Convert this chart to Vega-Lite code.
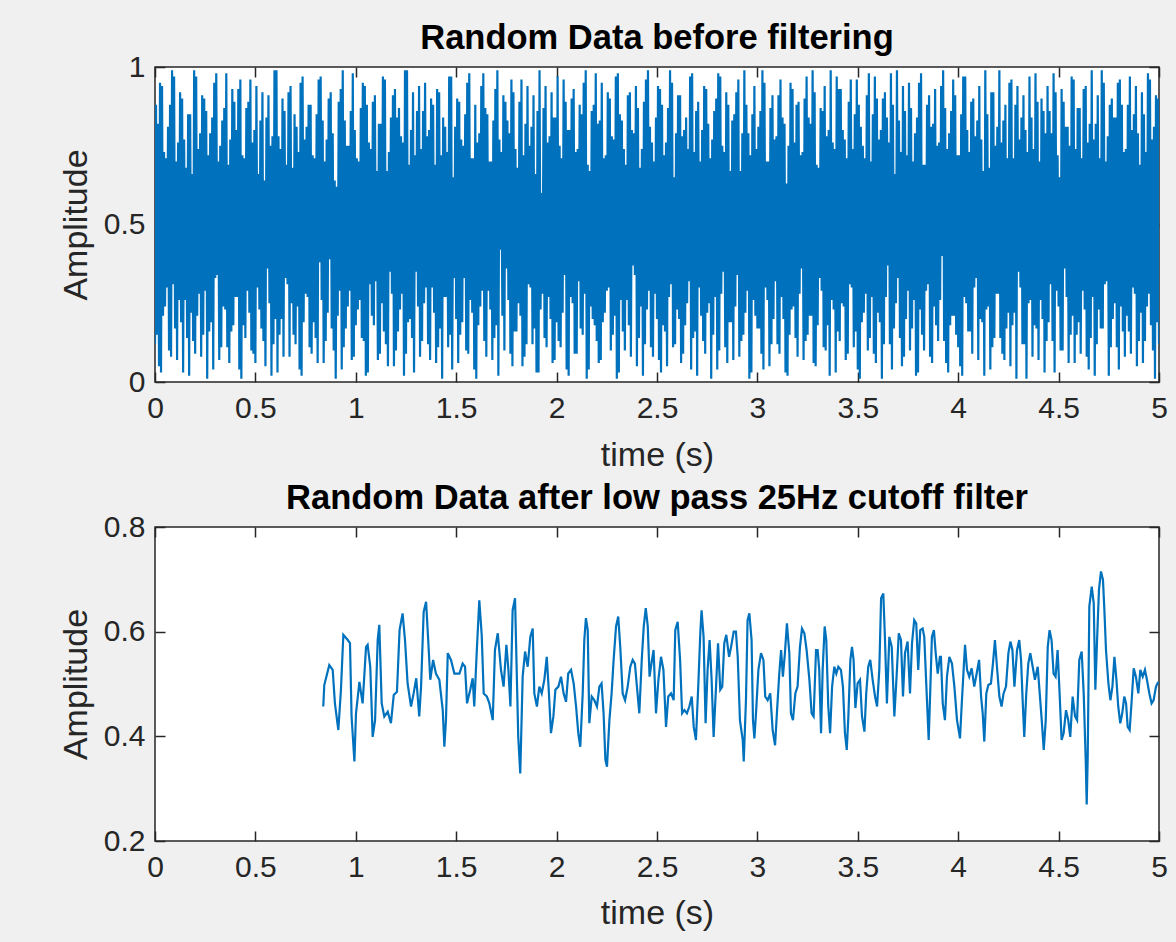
{
"$schema": "https://vega.github.io/schema/vega-lite/v6.json",
"background": "#f0f0f0",
"padding": {"left": 58, "top": 19, "right": 9, "bottom": 12},
"spacing": 6,
"config": {
 "view": {"fill": "white", "stroke": "#262626", "strokeWidth": 1.5},
 "font": "Liberation Sans",
 "axis": {"domain": false, "grid": false, "tickColor": "#262626", "tickWidth": 1.5, "tickSize": -10, "labelColor": "#262626", "labelFont": "Liberation Sans", "labelFontSize": 30, "titleFont": "Liberation Sans", "titleFontSize": 34, "titleColor": "#262626", "titleFontWeight": "normal", "labelFlush": false, "labelOverlap": false, "labelBound": false},
 "title": {"font": "Liberation Sans", "fontSize": 34.5, "fontWeight": "bold", "color": "#000000", "anchor": "middle", "baseline": "alphabetic", "offset": -4}
},
"datasets": {
"raw": [
{"t":0,"v":0.12},{"t":0.005,"v":0.88},{"t":0.01,"v":0.15},{"t":0.015,"v":0.82},{"t":0.02,"v":0.05},{"t":0.025,"v":0.95},{"t":0.03,"v":0.03},{"t":0.035,"v":0.94},{"t":0.04,"v":0.21},{"t":0.045,"v":0.73},{"t":0.05,"v":0.24},{"t":0.055,"v":0.71},{"t":0.06,"v":0.30},{"t":0.065,"v":0.81},{"t":0.07,"v":0.10},{"t":0.075,"v":0.88},{"t":0.08,"v":0.08},{"t":0.085,"v":0.99},{"t":0.09,"v":0.31},{"t":0.095,"v":0.97},{"t":0.1,"v":0.17},{"t":0.105,"v":0.70},{"t":0.11,"v":0.07},{"t":0.115,"v":0.76},{"t":0.12,"v":0.26},{"t":0.125,"v":0.92},{"t":0.13,"v":0.19},{"t":0.135,"v":0.90},{"t":0.14,"v":0.03},{"t":0.145,"v":0.77},{"t":0.15,"v":0.26},{"t":0.155,"v":0.68},{"t":0.16,"v":0.14},{"t":0.165,"v":0.85},{"t":0.17,"v":0.02},{"t":0.175,"v":0.85},{"t":0.18,"v":0.22},{"t":0.185,"v":0.66},{"t":0.19,"v":0.13},{"t":0.195,"v":0.99},
{"t":0.2,"v":0.09},{"t":0.205,"v":0.97},{"t":0.21,"v":0.21},{"t":0.215,"v":0.74},{"t":0.22,"v":0.28},{"t":0.225,"v":0.79},{"t":0.23,"v":0.08},{"t":0.235,"v":0.91},{"t":0.24,"v":0.15},{"t":0.245,"v":0.90},{"t":0.25,"v":0.29},{"t":0.255,"v":0.86},{"t":0.26,"v":0.01},{"t":0.265,"v":0.72},{"t":0.27,"v":0.16},{"t":0.275,"v":0.79},{"t":0.28,"v":0.19},{"t":0.285,"v":0.84},{"t":0.29,"v":0.04},{"t":0.295,"v":0.95},{"t":0.3,"v":0.33},{"t":0.305,"v":0.98},{"t":0.31,"v":0.34},{"t":0.315,"v":0.70},{"t":0.32,"v":0.07},{"t":0.325,"v":0.75},{"t":0.33,"v":0.11},{"t":0.335,"v":0.83},{"t":0.34,"v":0.24},{"t":0.345,"v":0.87},{"t":0.35,"v":0.23},{"t":0.355,"v":0.98},{"t":0.36,"v":0.11},{"t":0.365,"v":0.69},{"t":0.37,"v":0.06},{"t":0.375,"v":0.77},{"t":0.38,"v":0.16},{"t":0.385,"v":0.93},{"t":0.39,"v":0.18},{"t":0.395,"v":0.89},
{"t":0.4,"v":0.27},{"t":0.405,"v":0.80},{"t":0.41,"v":0.27},{"t":0.415,"v":0.93},{"t":0.42,"v":0.04},{"t":0.425,"v":0.96},{"t":0.43,"v":0.01},{"t":0.435,"v":0.72},{"t":0.44,"v":0.18},{"t":0.445,"v":0.71},{"t":0.45,"v":0.14},{"t":0.455,"v":0.87},{"t":0.46,"v":0.29},{"t":0.465,"v":0.89},{"t":0.47,"v":0.22},{"t":0.475,"v":0.96},{"t":0.48,"v":0.10},{"t":0.485,"v":0.76},{"t":0.49,"v":0.09},{"t":0.495,"v":0.80},{"t":0.5,"v":0.06},{"t":0.505,"v":0.94},{"t":0.51,"v":0.30},{"t":0.515,"v":0.66},{"t":0.52,"v":0.23},{"t":0.525,"v":0.83},{"t":0.53,"v":0.17},{"t":0.535,"v":0.92},{"t":0.54,"v":0.13},{"t":0.545,"v":0.64},{"t":0.55,"v":0.05},{"t":0.555,"v":0.84},{"t":0.56,"v":0.36},{"t":0.565,"v":0.91},{"t":0.57,"v":0.25},{"t":0.575,"v":0.75},{"t":0.58,"v":0.02},{"t":0.585,"v":0.78},{"t":0.59,"v":0.12},{"t":0.595,"v":0.99},
{"t":0.6,"v":0.20},{"t":0.605,"v":0.99},{"t":0.61,"v":0.03},{"t":0.615,"v":0.78},{"t":0.62,"v":0.15},{"t":0.625,"v":0.74},{"t":0.63,"v":0.20},{"t":0.635,"v":0.90},{"t":0.64,"v":0.08},{"t":0.645,"v":0.86},{"t":0.65,"v":0.33},{"t":0.655,"v":0.69},{"t":0.66,"v":0.31},{"t":0.665,"v":0.92},{"t":0.67,"v":0.08},{"t":0.675,"v":0.94},{"t":0.68,"v":0.25},{"t":0.685,"v":0.68},{"t":0.69,"v":0.15},{"t":0.695,"v":0.85},{"t":0.7,"v":0.12},{"t":0.705,"v":0.81},{"t":0.71,"v":0.24},{"t":0.715,"v":0.73},{"t":0.72,"v":0.04},{"t":0.725,"v":0.95},{"t":0.73,"v":0.02},{"t":0.735,"v":0.97},{"t":0.74,"v":0.19},{"t":0.745,"v":0.77},{"t":0.75,"v":0.28},{"t":0.755,"v":0.81},{"t":0.76,"v":0.27},{"t":0.765,"v":0.88},{"t":0.77,"v":0.11},{"t":0.775,"v":0.88},{"t":0.78,"v":0.09},{"t":0.785,"v":0.72},{"t":0.79,"v":0.19},{"t":0.795,"v":0.71},
{"t":0.8,"v":0.14},{"t":0.805,"v":0.85},{"t":0.81,"v":0.06},{"t":0.815,"v":0.96},{"t":0.82,"v":0.38},{"t":0.825,"v":0.97},{"t":0.83,"v":0.26},{"t":0.835,"v":0.83},{"t":0.84,"v":0.06},{"t":0.845,"v":0.70},{"t":0.85,"v":0.13},{"t":0.855,"v":0.77},{"t":0.86,"v":0.22},{"t":0.865,"v":0.90},{"t":0.87,"v":0.39},{"t":0.875,"v":0.92},{"t":0.88,"v":0.17},{"t":0.885,"v":0.79},{"t":0.89,"v":0.10},{"t":0.895,"v":0.64},{"t":0.9,"v":0.01},{"t":0.905,"v":0.62},{"t":0.91,"v":0.21},{"t":0.915,"v":0.89},{"t":0.92,"v":0.29},{"t":0.925,"v":0.93},{"t":0.93,"v":0.04},{"t":0.935,"v":0.99},{"t":0.94,"v":0.11},{"t":0.945,"v":0.83},{"t":0.95,"v":0.17},{"t":0.955,"v":0.75},{"t":0.96,"v":0.24},{"t":0.965,"v":0.75},{"t":0.97,"v":0.29},{"t":0.975,"v":0.86},{"t":0.98,"v":0.07},{"t":0.985,"v":0.98},{"t":0.99,"v":0.08},{"t":0.995,"v":0.80},
{"t":1,"v":0.18},{"t":1.005,"v":0.71},{"t":1.01,"v":0.23},{"t":1.015,"v":0.70},{"t":1.02,"v":0.26},{"t":1.025,"v":0.87},{"t":1.03,"v":0.14},{"t":1.035,"v":0.95},{"t":1.04,"v":0.13},{"t":1.045,"v":0.94},{"t":1.05,"v":0.02},{"t":1.055,"v":0.88},{"t":1.06,"v":0.03},{"t":1.065,"v":0.76},{"t":1.07,"v":0.31},{"t":1.075,"v":0.74},{"t":1.08,"v":0.21},{"t":1.085,"v":0.89},{"t":1.09,"v":0.18},{"t":1.095,"v":0.91},{"t":1.1,"v":0.32},{"t":1.105,"v":0.67},{"t":1.11,"v":0.07},{"t":1.115,"v":0.82},{"t":1.12,"v":0.09},{"t":1.125,"v":0.82},{"t":1.13,"v":0.25},{"t":1.135,"v":0.97},{"t":1.14,"v":0.16},{"t":1.145,"v":0.96},{"t":1.15,"v":0.12},{"t":1.155,"v":0.67},{"t":1.16,"v":0.05},{"t":1.165,"v":0.73},{"t":1.17,"v":0.35},{"t":1.175,"v":0.84},{"t":1.18,"v":0.28},{"t":1.185,"v":0.91},{"t":1.19,"v":0.05},{"t":1.195,"v":0.93},
{"t":1.2,"v":0.10},{"t":1.205,"v":0.84},{"t":1.21,"v":0.16},{"t":1.215,"v":0.87},{"t":1.22,"v":0.23},{"t":1.225,"v":0.78},{"t":1.23,"v":0.28},{"t":1.235,"v":0.76},{"t":1.24,"v":0.02},{"t":1.245,"v":0.99},{"t":1.25,"v":0.09},{"t":1.255,"v":0.99},{"t":1.26,"v":0.19},{"t":1.265,"v":0.69},{"t":1.27,"v":0.20},{"t":1.275,"v":0.80},{"t":1.28,"v":0.14},{"t":1.285,"v":0.92},{"t":1.29,"v":0.03},{"t":1.295,"v":0.72},{"t":1.3,"v":0.35},{"t":1.305,"v":0.86},{"t":1.31,"v":0.24},{"t":1.315,"v":0.94},{"t":1.32,"v":0.08},{"t":1.325,"v":0.74},{"t":1.33,"v":0.13},{"t":1.335,"v":0.86},{"t":1.34,"v":0.25},{"t":1.345,"v":0.95},{"t":1.35,"v":0.30},{"t":1.355,"v":0.78},{"t":1.36,"v":0.12},{"t":1.365,"v":0.80},{"t":1.37,"v":0.07},{"t":1.375,"v":0.90},{"t":1.38,"v":0.30},{"t":1.385,"v":0.88},{"t":1.39,"v":0.22},{"t":1.395,"v":0.69},
{"t":1.4,"v":0.06},{"t":1.405,"v":0.93},{"t":1.41,"v":0.11},{"t":1.415,"v":0.92},{"t":1.42,"v":0.17},{"t":1.425,"v":0.72},{"t":1.43,"v":0.01},{"t":1.435,"v":0.84},{"t":1.44,"v":0.27},{"t":1.445,"v":0.81},{"t":1.45,"v":0.27},{"t":1.455,"v":0.73},{"t":1.46,"v":0.11},{"t":1.465,"v":0.97},{"t":1.47,"v":0.15},{"t":1.475,"v":0.97},{"t":1.48,"v":0.04},{"t":1.485,"v":0.65},{"t":1.49,"v":0.33},{"t":1.495,"v":0.81},{"t":1.5,"v":0.20},{"t":1.505,"v":0.90},{"t":1.51,"v":0.06},{"t":1.515,"v":0.89},{"t":1.52,"v":0.15},{"t":1.525,"v":0.77},{"t":1.53,"v":0.19},{"t":1.535,"v":0.75},{"t":1.54,"v":0.33},{"t":1.545,"v":0.85},{"t":1.55,"v":0.10},{"t":1.555,"v":0.95},{"t":1.56,"v":0.09},{"t":1.565,"v":0.98},{"t":1.57,"v":0.26},{"t":1.575,"v":0.71},{"t":1.58,"v":0.22},{"t":1.585,"v":0.71},{"t":1.59,"v":0.04},{"t":1.595,"v":0.88},
{"t":1.6,"v":0.01},{"t":1.605,"v":0.76},{"t":1.61,"v":0.18},{"t":1.615,"v":0.79},{"t":1.62,"v":0.24},{"t":1.625,"v":0.94},{"t":1.63,"v":0.29},{"t":1.635,"v":0.98},{"t":1.64,"v":0.13},{"t":1.645,"v":0.87},{"t":1.65,"v":0.08},{"t":1.655,"v":0.85},{"t":1.66,"v":0.29},{"t":1.665,"v":0.70},{"t":1.67,"v":0.23},{"t":1.675,"v":0.70},{"t":1.68,"v":0.07},{"t":1.685,"v":0.83},{"t":1.69,"v":0.14},{"t":1.695,"v":0.93},{"t":1.7,"v":0.18},{"t":1.705,"v":0.99},{"t":1.71,"v":0.02},{"t":1.715,"v":0.77},{"t":1.72,"v":0.42},{"t":1.725,"v":0.73},{"t":1.73,"v":0.21},{"t":1.735,"v":0.91},{"t":1.74,"v":0.10},{"t":1.745,"v":0.89},{"t":1.75,"v":0.36},{"t":1.755,"v":0.83},{"t":1.76,"v":0.26},{"t":1.765,"v":0.79},{"t":1.77,"v":0.09},{"t":1.775,"v":0.96},{"t":1.78,"v":0.05},{"t":1.785,"v":0.92},{"t":1.79,"v":0.16},{"t":1.795,"v":0.74},
{"t":1.8,"v":0.16},{"t":1.805,"v":0.68},{"t":1.81,"v":0.25},{"t":1.815,"v":0.89},{"t":1.82,"v":0.21},{"t":1.825,"v":0.96},{"t":1.83,"v":0.05},{"t":1.835,"v":0.72},{"t":1.84,"v":0.08},{"t":1.845,"v":0.82},{"t":1.85,"v":0.12},{"t":1.855,"v":0.94},{"t":1.86,"v":0.31},{"t":1.865,"v":0.75},{"t":1.87,"v":0.30},{"t":1.875,"v":0.81},{"t":1.88,"v":0.12},{"t":1.885,"v":0.91},{"t":1.89,"v":0.17},{"t":1.895,"v":0.66},{"t":1.9,"v":0.03},{"t":1.905,"v":0.86},{"t":1.91,"v":0.03},{"t":1.915,"v":0.99},{"t":1.92,"v":0.23},{"t":1.925,"v":0.60},{"t":1.93,"v":0.28},{"t":1.935,"v":0.87},{"t":1.94,"v":0.14},{"t":1.945,"v":0.94},{"t":1.95,"v":0.11},{"t":1.955,"v":0.76},{"t":1.96,"v":0.27},{"t":1.965,"v":0.78},{"t":1.97,"v":0.20},{"t":1.975,"v":0.92},{"t":1.98,"v":0.06},{"t":1.985,"v":0.84},{"t":1.99,"v":0.07},{"t":1.995,"v":0.84},
{"t":2,"v":0.19},{"t":2.005,"v":0.97},{"t":2.01,"v":0.13},{"t":2.015,"v":0.75},{"t":2.02,"v":0.11},{"t":2.025,"v":0.71},{"t":2.03,"v":0.22},{"t":2.035,"v":0.96},{"t":2.04,"v":0.34},{"t":2.045,"v":0.89},{"t":2.05,"v":0.04},{"t":2.055,"v":0.80},{"t":2.06,"v":0.02},{"t":2.065,"v":0.80},{"t":2.07,"v":0.27},{"t":2.075,"v":0.90},{"t":2.08,"v":0.25},{"t":2.085,"v":0.93},{"t":2.09,"v":0.09},{"t":2.095,"v":0.73},{"t":2.1,"v":0.09},{"t":2.105,"v":0.74},{"t":2.11,"v":0.32},{"t":2.115,"v":0.88},{"t":2.12,"v":0.17},{"t":2.125,"v":0.85},{"t":2.13,"v":0.15},{"t":2.135,"v":0.95},{"t":2.14,"v":0.28},{"t":2.145,"v":0.99},{"t":2.15,"v":0.01},{"t":2.155,"v":0.69},{"t":2.16,"v":0.04},{"t":2.165,"v":0.67},{"t":2.17,"v":0.24},{"t":2.175,"v":0.86},{"t":2.18,"v":0.20},{"t":2.185,"v":0.88},{"t":2.19,"v":0.18},{"t":2.195,"v":0.98},
{"t":2.2,"v":0.13},{"t":2.205,"v":0.82},{"t":2.21,"v":0.06},{"t":2.215,"v":0.83},{"t":2.22,"v":0.07},{"t":2.225,"v":0.95},{"t":2.23,"v":0.19},{"t":2.235,"v":0.71},{"t":2.24,"v":0.22},{"t":2.245,"v":0.72},{"t":2.25,"v":0.29},{"t":2.255,"v":0.92},{"t":2.26,"v":0.30},{"t":2.265,"v":0.90},{"t":2.27,"v":0.10},{"t":2.275,"v":0.78},{"t":2.28,"v":0.15},{"t":2.285,"v":0.77},{"t":2.29,"v":0.21},{"t":2.295,"v":0.97},{"t":2.3,"v":0.01},{"t":2.305,"v":0.98},{"t":2.31,"v":0.03},{"t":2.315,"v":0.85},{"t":2.32,"v":0.26},{"t":2.325,"v":0.83},{"t":2.33,"v":0.16},{"t":2.335,"v":0.74},{"t":2.34,"v":0.10},{"t":2.345,"v":0.69},{"t":2.35,"v":0.26},{"t":2.355,"v":0.91},{"t":2.36,"v":0.18},{"t":2.365,"v":0.92},{"t":2.37,"v":0.08},{"t":2.375,"v":0.80},{"t":2.38,"v":0.37},{"t":2.385,"v":0.79},{"t":2.39,"v":0.34},{"t":2.395,"v":0.94},
{"t":2.4,"v":0.05},{"t":2.405,"v":0.87},{"t":2.41,"v":0.14},{"t":2.415,"v":0.68},{"t":2.42,"v":0.24},{"t":2.425,"v":0.74},{"t":2.43,"v":0.02},{"t":2.435,"v":0.89},{"t":2.44,"v":0.12},{"t":2.445,"v":0.96},{"t":2.45,"v":0.23},{"t":2.455,"v":0.99},{"t":2.46,"v":0.29},{"t":2.465,"v":0.81},{"t":2.47,"v":0.11},{"t":2.475,"v":0.76},{"t":2.48,"v":0.08},{"t":2.485,"v":0.70},{"t":2.49,"v":0.28},{"t":2.495,"v":0.84},{"t":2.5,"v":0.20},{"t":2.505,"v":0.94},{"t":2.51,"v":0.07},{"t":2.515,"v":0.93},{"t":2.52,"v":0.03},{"t":2.525,"v":0.88},{"t":2.53,"v":0.18},{"t":2.535,"v":0.72},{"t":2.54,"v":0.16},{"t":2.545,"v":0.76},{"t":2.55,"v":0.05},{"t":2.555,"v":0.87},{"t":2.56,"v":0.27},{"t":2.565,"v":0.99},{"t":2.57,"v":0.31},{"t":2.575,"v":0.95},{"t":2.58,"v":0.11},{"t":2.585,"v":0.65},{"t":2.59,"v":0.12},{"t":2.595,"v":0.79},
{"t":2.6,"v":0.23},{"t":2.605,"v":0.91},{"t":2.61,"v":0.20},{"t":2.615,"v":0.91},{"t":2.62,"v":0.06},{"t":2.625,"v":0.78},{"t":2.63,"v":0.09},{"t":2.635,"v":0.80},{"t":2.64,"v":0.18},{"t":2.645,"v":0.84},{"t":2.65,"v":0.25},{"t":2.655,"v":0.74},{"t":2.66,"v":0.32},{"t":2.665,"v":0.97},{"t":2.67,"v":0.04},{"t":2.675,"v":0.98},{"t":2.68,"v":0.14},{"t":2.685,"v":0.73},{"t":2.69,"v":0.16},{"t":2.695,"v":0.86},{"t":2.7,"v":0.02},{"t":2.705,"v":0.89},{"t":2.71,"v":0.30},{"t":2.715,"v":0.70},{"t":2.72,"v":0.21},{"t":2.725,"v":0.80},{"t":2.73,"v":0.13},{"t":2.735,"v":0.94},{"t":2.74,"v":0.09},{"t":2.745,"v":0.93},{"t":2.75,"v":0.22},{"t":2.755,"v":0.82},{"t":2.76,"v":0.25},{"t":2.765,"v":0.71},{"t":2.77,"v":0.01},{"t":2.775,"v":0.77},{"t":2.78,"v":0.15},{"t":2.785,"v":0.86},{"t":2.79,"v":0.27},{"t":2.795,"v":0.90},
{"t":2.8,"v":0.04},{"t":2.805,"v":0.98},{"t":2.81,"v":0.10},{"t":2.815,"v":0.97},{"t":2.82,"v":0.28},{"t":2.825,"v":0.75},{"t":2.83,"v":0.35},{"t":2.835,"v":0.73},{"t":2.84,"v":0.11},{"t":2.845,"v":0.92},{"t":2.85,"v":0.06},{"t":2.855,"v":0.88},{"t":2.86,"v":0.19},{"t":2.865,"v":0.67},{"t":2.87,"v":0.19},{"t":2.875,"v":0.83},{"t":2.88,"v":0.07},{"t":2.885,"v":0.85},{"t":2.89,"v":0.24},{"t":2.895,"v":0.92},{"t":2.9,"v":0.34},{"t":2.905,"v":0.96},{"t":2.91,"v":0.08},{"t":2.915,"v":0.67},{"t":2.92,"v":0.13},{"t":2.925,"v":0.79},{"t":2.93,"v":0.15},{"t":2.935,"v":0.99},{"t":2.94,"v":0.22},{"t":2.945,"v":0.88},{"t":2.95,"v":0.29},{"t":2.955,"v":0.79},{"t":2.96,"v":0.01},{"t":2.965,"v":0.72},{"t":2.97,"v":0.03},{"t":2.975,"v":0.85},{"t":2.98,"v":0.26},{"t":2.985,"v":0.94},{"t":2.99,"v":0.21},{"t":2.995,"v":0.74},
{"t":3,"v":0.17},{"t":3.005,"v":0.81},{"t":3.01,"v":0.17},{"t":3.015,"v":0.86},{"t":3.02,"v":0.09},{"t":3.025,"v":0.99},{"t":3.03,"v":0.04},{"t":3.035,"v":0.95},{"t":3.04,"v":0.30},{"t":3.045,"v":0.70},{"t":3.05,"v":0.26},{"t":3.055,"v":0.70},{"t":3.06,"v":0.05},{"t":3.065,"v":0.87},{"t":3.07,"v":0.12},{"t":3.075,"v":0.91},{"t":3.08,"v":0.20},{"t":3.085,"v":0.77},{"t":3.09,"v":0.32},{"t":3.095,"v":0.78},{"t":3.1,"v":0.12},{"t":3.105,"v":0.91},{"t":3.11,"v":0.09},{"t":3.115,"v":0.96},{"t":3.12,"v":0.27},{"t":3.125,"v":0.84},{"t":3.13,"v":0.20},{"t":3.135,"v":0.82},{"t":3.14,"v":0.03},{"t":3.145,"v":0.63},{"t":3.15,"v":0.02},{"t":3.155,"v":0.75},{"t":3.16,"v":0.15},{"t":3.165,"v":0.95},{"t":3.17,"v":0.23},{"t":3.175,"v":0.93},{"t":3.18,"v":0.24},{"t":3.185,"v":0.76},{"t":3.19,"v":0.14},{"t":3.195,"v":0.88},
{"t":3.2,"v":0.08},{"t":3.205,"v":0.89},{"t":3.21,"v":0.28},{"t":3.215,"v":0.72},{"t":3.22,"v":0.36},{"t":3.225,"v":0.73},{"t":3.23,"v":0.07},{"t":3.235,"v":0.90},{"t":3.24,"v":0.13},{"t":3.245,"v":0.97},{"t":3.25,"v":0.15},{"t":3.255,"v":0.84},{"t":3.26,"v":0.21},{"t":3.265,"v":0.82},{"t":3.27,"v":0.21},{"t":3.275,"v":0.99},{"t":3.28,"v":0.06},{"t":3.285,"v":0.92},{"t":3.29,"v":0.05},{"t":3.295,"v":0.69},{"t":3.3,"v":0.18},{"t":3.305,"v":0.68},{"t":3.31,"v":0.33},{"t":3.315,"v":0.87},{"t":3.32,"v":0.29},{"t":3.325,"v":0.86},{"t":3.33,"v":0.11},{"t":3.335,"v":0.94},{"t":3.34,"v":0.10},{"t":3.345,"v":0.78},{"t":3.35,"v":0.18},{"t":3.355,"v":0.80},{"t":3.36,"v":0.02},{"t":3.365,"v":0.99},{"t":3.37,"v":0.26},{"t":3.375,"v":0.76},{"t":3.38,"v":0.23},{"t":3.385,"v":0.74},{"t":3.39,"v":0.03},{"t":3.395,"v":0.97},
{"t":3.4,"v":0.16},{"t":3.405,"v":0.93},{"t":3.41,"v":0.13},{"t":3.415,"v":0.93},{"t":3.42,"v":0.25},{"t":3.425,"v":0.80},{"t":3.43,"v":0.24},{"t":3.435,"v":0.77},{"t":3.44,"v":0.07},{"t":3.445,"v":0.71},{"t":3.45,"v":0.09},{"t":3.455,"v":0.89},{"t":3.46,"v":0.31},{"t":3.465,"v":0.96},{"t":3.47,"v":0.30},{"t":3.475,"v":0.74},{"t":3.48,"v":0.11},{"t":3.485,"v":0.85},{"t":3.49,"v":0.16},{"t":3.495,"v":0.96},{"t":3.5,"v":0.04},{"t":3.505,"v":0.88},{"t":3.51,"v":0.01},{"t":3.515,"v":0.81},{"t":3.52,"v":0.19},{"t":3.525,"v":0.75},{"t":3.53,"v":0.22},{"t":3.535,"v":0.71},{"t":3.54,"v":0.28},{"t":3.545,"v":0.91},{"t":3.55,"v":0.10},{"t":3.555,"v":0.98},{"t":3.56,"v":0.14},{"t":3.565,"v":0.70},{"t":3.57,"v":0.27},{"t":3.575,"v":0.85},{"t":3.58,"v":0.09},{"t":3.585,"v":0.97},{"t":3.59,"v":0.06},{"t":3.595,"v":0.90},
{"t":3.6,"v":0.22},{"t":3.605,"v":0.77},{"t":3.61,"v":0.19},{"t":3.615,"v":0.80},{"t":3.62,"v":0.01},{"t":3.625,"v":0.90},{"t":3.63,"v":0.12},{"t":3.635,"v":0.92},{"t":3.64,"v":0.27},{"t":3.645,"v":0.84},{"t":3.65,"v":0.37},{"t":3.655,"v":0.76},{"t":3.66,"v":0.12},{"t":3.665,"v":0.98},{"t":3.67,"v":0.04},{"t":3.675,"v":0.88},{"t":3.68,"v":0.17},{"t":3.685,"v":0.66},{"t":3.69,"v":0.25},{"t":3.695,"v":0.99},{"t":3.7,"v":0.33},{"t":3.705,"v":0.83},{"t":3.71,"v":0.14},{"t":3.715,"v":0.73},{"t":3.72,"v":0.05},{"t":3.725,"v":0.94},{"t":3.73,"v":0.08},{"t":3.735,"v":0.86},{"t":3.74,"v":0.20},{"t":3.745,"v":0.72},{"t":3.75,"v":0.29},{"t":3.755,"v":0.95},{"t":3.76,"v":0.10},{"t":3.765,"v":0.87},{"t":3.77,"v":0.17},{"t":3.775,"v":0.70},{"t":3.78,"v":0.26},{"t":3.785,"v":0.79},{"t":3.79,"v":0.02},{"t":3.795,"v":0.84},
{"t":3.8,"v":0.03},{"t":3.805,"v":0.95},{"t":3.81,"v":0.23},{"t":3.815,"v":0.98},{"t":3.82,"v":0.15},{"t":3.825,"v":0.69},{"t":3.83,"v":0.10},{"t":3.835,"v":0.69},{"t":3.84,"v":0.29},{"t":3.845,"v":0.88},{"t":3.85,"v":0.31},{"t":3.855,"v":0.91},{"t":3.86,"v":0.08},{"t":3.865,"v":0.81},{"t":3.87,"v":0.06},{"t":3.875,"v":0.82},{"t":3.88,"v":0.24},{"t":3.885,"v":0.93},{"t":3.89,"v":0.18},{"t":3.895,"v":0.75},{"t":3.9,"v":0.13},{"t":3.905,"v":0.76},{"t":3.91,"v":0.26},{"t":3.915,"v":0.94},{"t":3.92,"v":0.40},{"t":3.925,"v":0.99},{"t":3.93,"v":0.13},{"t":3.935,"v":0.87},{"t":3.94,"v":0.06},{"t":3.945,"v":0.74},{"t":3.95,"v":0.03},{"t":3.955,"v":0.79},{"t":3.96,"v":0.18},{"t":3.965,"v":0.86},{"t":3.97,"v":0.21},{"t":3.975,"v":0.96},{"t":3.98,"v":0.21},{"t":3.985,"v":0.91},{"t":3.99,"v":0.15},{"t":3.995,"v":0.72},
{"t":4,"v":0.11},{"t":4.005,"v":0.72},{"t":4.01,"v":0.05},{"t":4.015,"v":0.85},{"t":4.02,"v":0.02},{"t":4.025,"v":0.97},{"t":4.03,"v":0.27},{"t":4.035,"v":0.97},{"t":4.04,"v":0.25},{"t":4.045,"v":0.80},{"t":4.05,"v":0.16},{"t":4.055,"v":0.73},{"t":4.06,"v":0.16},{"t":4.065,"v":0.89},{"t":4.07,"v":0.09},{"t":4.075,"v":0.90},{"t":4.08,"v":0.30},{"t":4.085,"v":0.78},{"t":4.09,"v":0.33},{"t":4.095,"v":0.83},{"t":4.1,"v":0.07},{"t":4.105,"v":0.94},{"t":4.11,"v":0.20},{"t":4.115,"v":0.77},{"t":4.12,"v":0.19},{"t":4.125,"v":0.67},{"t":4.13,"v":0.02},{"t":4.135,"v":0.99},{"t":4.14,"v":0.23},{"t":4.145,"v":0.85},{"t":4.15,"v":0.24},{"t":4.155,"v":0.68},{"t":4.16,"v":0.04},{"t":4.165,"v":0.92},{"t":4.17,"v":0.11},{"t":4.175,"v":0.92},{"t":4.18,"v":0.14},{"t":4.185,"v":0.75},{"t":4.19,"v":0.28},{"t":4.195,"v":0.81},
{"t":4.2,"v":0.28},{"t":4.205,"v":0.99},{"t":4.21,"v":0.14},{"t":4.215,"v":0.76},{"t":4.22,"v":0.09},{"t":4.225,"v":0.83},{"t":4.23,"v":0.07},{"t":4.235,"v":0.88},{"t":4.24,"v":0.17},{"t":4.245,"v":0.71},{"t":4.25,"v":0.22},{"t":4.255,"v":0.95},{"t":4.26,"v":0.05},{"t":4.265,"v":0.96},{"t":4.27,"v":0.18},{"t":4.275,"v":0.71},{"t":4.28,"v":0.22},{"t":4.285,"v":0.88},{"t":4.29,"v":0.01},{"t":4.295,"v":0.94},{"t":4.3,"v":0.35},{"t":4.305,"v":0.77},{"t":4.31,"v":0.30},{"t":4.315,"v":0.84},{"t":4.32,"v":0.12},{"t":4.325,"v":0.91},{"t":4.33,"v":0.12},{"t":4.335,"v":0.80},{"t":4.34,"v":0.01},{"t":4.345,"v":0.73},{"t":4.35,"v":0.25},{"t":4.355,"v":0.97},{"t":4.36,"v":0.26},{"t":4.365,"v":0.84},{"t":4.37,"v":0.08},{"t":4.375,"v":0.74},{"t":4.38,"v":0.18},{"t":4.385,"v":0.98},{"t":4.39,"v":0.17},{"t":4.395,"v":0.89},
{"t":4.4,"v":0.07},{"t":4.405,"v":0.70},{"t":4.41,"v":0.26},{"t":4.415,"v":0.90},{"t":4.42,"v":0.20},{"t":4.425,"v":0.86},{"t":4.43,"v":0.03},{"t":4.435,"v":0.79},{"t":4.44,"v":0.13},{"t":4.445,"v":0.94},{"t":4.45,"v":0.19},{"t":4.455,"v":0.86},{"t":4.46,"v":0.31},{"t":4.465,"v":0.79},{"t":4.47,"v":0.13},{"t":4.475,"v":0.98},{"t":4.48,"v":0.03},{"t":4.485,"v":0.92},{"t":4.49,"v":0.29},{"t":4.495,"v":0.72},{"t":4.5,"v":0.24},{"t":4.505,"v":0.65},{"t":4.51,"v":0.10},{"t":4.515,"v":0.93},{"t":4.52,"v":0.10},{"t":4.525,"v":0.89},{"t":4.53,"v":0.36},{"t":4.535,"v":0.81},{"t":4.54,"v":0.27},{"t":4.545,"v":0.81},{"t":4.55,"v":0.06},{"t":4.555,"v":0.75},{"t":4.56,"v":0.15},{"t":4.565,"v":0.97},{"t":4.57,"v":0.21},{"t":4.575,"v":0.96},{"t":4.58,"v":0.06},{"t":4.585,"v":0.74},{"t":4.59,"v":0.15},{"t":4.595,"v":0.87},
{"t":4.6,"v":0.19},{"t":4.605,"v":0.87},{"t":4.61,"v":0.09},{"t":4.615,"v":0.71},{"t":4.62,"v":0.29},{"t":4.625,"v":0.93},{"t":4.63,"v":0.23},{"t":4.635,"v":0.94},{"t":4.64,"v":0.08},{"t":4.645,"v":0.76},{"t":4.65,"v":0.04},{"t":4.655,"v":0.82},{"t":4.66,"v":0.14},{"t":4.665,"v":0.99},{"t":4.67,"v":0.27},{"t":4.675,"v":0.77},{"t":4.68,"v":0.02},{"t":4.685,"v":0.82},{"t":4.69,"v":0.12},{"t":4.695,"v":0.91},{"t":4.7,"v":0.23},{"t":4.705,"v":0.71},{"t":4.71,"v":0.17},{"t":4.715,"v":0.99},{"t":4.72,"v":0.17},{"t":4.725,"v":0.95},{"t":4.73,"v":0.31},{"t":4.735,"v":0.70},{"t":4.74,"v":0.32},{"t":4.745,"v":0.78},{"t":4.75,"v":0.02},{"t":4.755,"v":0.88},{"t":4.76,"v":0.11},{"t":4.765,"v":0.90},{"t":4.77,"v":0.20},{"t":4.775,"v":0.84},{"t":4.78,"v":0.25},{"t":4.785,"v":0.84},{"t":4.79,"v":0.11},{"t":4.795,"v":0.95},
{"t":4.8,"v":0.04},{"t":4.805,"v":0.96},{"t":4.81,"v":0.24},{"t":4.815,"v":0.88},{"t":4.82,"v":0.16},{"t":4.825,"v":0.73},{"t":4.83,"v":0.08},{"t":4.835,"v":0.74},{"t":4.84,"v":0.21},{"t":4.845,"v":0.88},{"t":4.85,"v":0.16},{"t":4.855,"v":0.97},{"t":4.86,"v":0.09},{"t":4.865,"v":0.80},{"t":4.87,"v":0.30},{"t":4.875,"v":0.85},{"t":4.88,"v":0.28},{"t":4.885,"v":0.94},{"t":4.89,"v":0.05},{"t":4.895,"v":0.79},{"t":4.9,"v":0.13},{"t":4.905,"v":0.69},{"t":4.91,"v":0.22},{"t":4.915,"v":0.92},{"t":4.92,"v":0.06},{"t":4.925,"v":0.85},{"t":4.93,"v":0.13},{"t":4.935,"v":0.73},{"t":4.94,"v":0.24},{"t":4.945,"v":0.98},{"t":4.95,"v":0.28},{"t":4.955,"v":0.96},{"t":4.96,"v":0.18},{"t":4.965,"v":0.77},{"t":4.97,"v":0.10},{"t":4.975,"v":0.81},{"t":4.98,"v":0.01},{"t":4.985,"v":0.91},{"t":4.99,"v":0.19},{"t":4.995,"v":0.90},
{"t":5,"v":0.12}
],
"filt": [
{"t":0.838,"v":0.457},{"t":0.843,"v":0.498},{"t":0.868,"v":0.536},{"t":0.885,"v":0.527},{"t":0.896,"v":0.463},{"t":0.913,"v":0.412},{"t":0.926,"v":0.489},{"t":0.938,"v":0.594},{"t":0.96,"v":0.584},{"t":0.971,"v":0.578},{"t":0.979,"v":0.438},{"t":0.993,"v":0.352},
{"t":1.001,"v":0.444},{"t":1.018,"v":0.504},{"t":1.034,"v":0.463},{"t":1.051,"v":0.571},{"t":1.059,"v":0.575},{"t":1.072,"v":0.533},{"t":1.084,"v":0.399},{"t":1.096,"v":0.431},{"t":1.109,"v":0.584},{"t":1.117,"v":0.613},{"t":1.129,"v":0.463},{"t":1.142,"v":0.438},{"t":1.159,"v":0.447},{"t":1.175,"v":0.425},{"t":1.189,"v":0.479},{"t":1.205,"v":0.485},{"t":1.218,"v":0.603},{"t":1.233,"v":0.635},{"t":1.245,"v":0.584},{"t":1.258,"v":0.501},{"t":1.275,"v":0.457},{"t":1.288,"v":0.482},{"t":1.301,"v":0.511},{"t":1.316,"v":0.438},{"t":1.325,"v":0.495},{"t":1.338,"v":0.638},{"t":1.35,"v":0.657},{"t":1.361,"v":0.581},{"t":1.371,"v":0.508},{"t":1.385,"v":0.546},{"t":1.399,"v":0.52},{"t":1.416,"v":0.508},{"t":1.433,"v":0.45},{"t":1.441,"v":0.38},{"t":1.449,"v":0.431},{"t":1.458,"v":0.559},{"t":1.474,"v":0.546},{"t":1.491,"v":0.52},{"t":1.516,"v":0.52},{"t":1.532,"v":0.539},{"t":1.544,"v":0.533},{"t":1.554,"v":0.463},{"t":1.57,"v":0.489},{"t":1.582,"v":0.511},{"t":1.59,"v":0.457},{"t":1.602,"v":0.559},{"t":1.615,"v":0.66},{"t":1.627,"v":0.594},{"t":1.637,"v":0.482},{"t":1.653,"v":0.476},{"t":1.665,"v":0.463},{"t":1.682,"v":0.431},{"t":1.693,"v":0.565},{"t":1.707,"v":0.597},{"t":1.723,"v":0.527},{"t":1.736,"v":0.495},{"t":1.75,"v":0.575},{"t":1.76,"v":0.527},{"t":1.77,"v":0.457},{"t":1.781,"v":0.641},{"t":1.793,"v":0.664},{"t":1.809,"v":0.399},{"t":1.819,"v":0.329},
{"t":1.831,"v":0.514},{"t":1.843,"v":0.562},{"t":1.856,"v":0.533},{"t":1.869,"v":0.59},{"t":1.881,"v":0.606},{"t":1.889,"v":0.482},{"t":1.902,"v":0.457},{"t":1.914,"v":0.495},{"t":1.926,"v":0.482},{"t":1.939,"v":0.508},{"t":1.951,"v":0.552},{"t":1.96,"v":0.495},{"t":1.972,"v":0.406},{"t":1.984,"v":0.438},{"t":1.994,"v":0.489},{"t":2.009,"v":0.495},{"t":2.022,"v":0.514},{"t":2.035,"v":0.482},{"t":2.047,"v":0.466},{"t":2.058,"v":0.52},{"t":2.072,"v":0.527},{"t":2.085,"v":0.501},{"t":2.097,"v":0.457},{"t":2.108,"v":0.406},{"t":2.118,"v":0.38},{"t":2.13,"v":0.482},{"t":2.138,"v":0.584},{"t":2.146,"v":0.626},{"t":2.155,"v":0.603},{"t":2.163,"v":0.425},{"t":2.175,"v":0.476},{"t":2.188,"v":0.469},{"t":2.201,"v":0.457},{"t":2.213,"v":0.495},{"t":2.224,"v":0.501},{"t":2.234,"v":0.444},{"t":2.243,"v":0.355},{"t":2.251,"v":0.342},{"t":2.263,"v":0.431},{"t":2.274,"v":0.482},{"t":2.284,"v":0.546},{"t":2.296,"v":0.61},{"t":2.307,"v":0.629},{"t":2.317,"v":0.571},{"t":2.329,"v":0.482},{"t":2.341,"v":0.469},{"t":2.354,"v":0.495},{"t":2.367,"v":0.533},{"t":2.379,"v":0.546},{"t":2.39,"v":0.539},{"t":2.4,"v":0.495},{"t":2.412,"v":0.444},{"t":2.424,"v":0.546},{"t":2.434,"v":0.61},{"t":2.444,"v":0.645},{"t":2.454,"v":0.61},{"t":2.463,"v":0.514},{"t":2.475,"v":0.546},{"t":2.483,"v":0.565},{"t":2.495,"v":0.444},{"t":2.507,"v":0.508},{"t":2.52,"v":0.552},{"t":2.532,"v":0.527},{"t":2.545,"v":0.418},{"t":2.556,"v":0.476},{"t":2.57,"v":0.482},{"t":2.583,"v":0.469},{"t":2.591,"v":0.603},{"t":2.603,"v":0.619},{"t":2.615,"v":0.546},{"t":2.625,"v":0.444},{"t":2.636,"v":0.45},{"t":2.649,"v":0.444},{"t":2.661,"v":0.457},{"t":2.673,"v":0.476},{"t":2.683,"v":0.418},{"t":2.694,"v":0.393},{"t":2.706,"v":0.501},{"t":2.716,"v":0.6},{"t":2.722,"v":0.641},{"t":2.732,"v":0.59},{"t":2.742,"v":0.425},{"t":2.752,"v":0.527},{"t":2.762,"v":0.584},{"t":2.772,"v":0.508},{"t":2.782,"v":0.399},{"t":2.794,"v":0.495},{"t":2.804,"v":0.578},{"t":2.815,"v":0.489},{"t":2.825,"v":0.495},{"t":2.835,"v":0.578},{"t":2.845,"v":0.594},{"t":2.859,"v":0.552},{"t":2.869,"v":0.571},
{"t":2.882,"v":0.6},{"t":2.893,"v":0.6},{"t":2.902,"v":0.552},{"t":2.913,"v":0.431},{"t":2.927,"v":0.393},{"t":2.932,"v":0.352},{"t":2.943,"v":0.469},{"t":2.951,"v":0.622},{"t":2.96,"v":0.635},{"t":2.971,"v":0.584},{"t":2.978,"v":0.431},{"t":2.985,"v":0.396},{"t":2.993,"v":0.444},{"t":3.005,"v":0.527},{"t":3.018,"v":0.559},{"t":3.03,"v":0.546},{"t":3.039,"v":0.476},{"t":3.051,"v":0.469},{"t":3.064,"v":0.482},{"t":3.076,"v":0.412},{"t":3.088,"v":0.383},{"t":3.098,"v":0.45},{"t":3.109,"v":0.52},{"t":3.118,"v":0.565},{"t":3.127,"v":0.514},{"t":3.137,"v":0.559},{"t":3.147,"v":0.616},{"t":3.159,"v":0.559},{"t":3.167,"v":0.444},{"t":3.177,"v":0.431},{"t":3.189,"v":0.482},{"t":3.2,"v":0.495},{"t":3.212,"v":0.571},{"t":3.222,"v":0.606},{"t":3.234,"v":0.597},{"t":3.245,"v":0.565},{"t":3.259,"v":0.508},{"t":3.27,"v":0.444},{"t":3.28,"v":0.438},{"t":3.292,"v":0.565},{"t":3.3,"v":0.565},{"t":3.308,"v":0.527},{"t":3.317,"v":0.406},{"t":3.325,"v":0.527},{"t":3.335,"v":0.61},{"t":3.343,"v":0.584},{"t":3.353,"v":0.457},{"t":3.362,"v":0.406},{"t":3.372,"v":0.495},{"t":3.383,"v":0.533},{"t":3.393,"v":0.52},{"t":3.403,"v":0.533},{"t":3.416,"v":0.527},{"t":3.426,"v":0.495},{"t":3.436,"v":0.406},{"t":3.445,"v":0.374},{"t":3.453,"v":0.438},{"t":3.463,"v":0.546},{"t":3.471,"v":0.571},{"t":3.479,"v":0.546},{"t":3.488,"v":0.454},{"t":3.499,"v":0.501},{"t":3.511,"v":0.508},{"t":3.521,"v":0.438},{"t":3.533,"v":0.409},{"t":3.542,"v":0.482},{"t":3.552,"v":0.533},{"t":3.562,"v":0.546},{"t":3.574,"v":0.508},{"t":3.586,"v":0.476},{"t":3.596,"v":0.457},{"t":3.607,"v":0.527},{"t":3.616,"v":0.664},{"t":3.627,"v":0.673},{"t":3.635,"v":0.59},{"t":3.645,"v":0.463},{"t":3.657,"v":0.59},{"t":3.669,"v":0.571},{"t":3.682,"v":0.438},{"t":3.694,"v":0.52},{"t":3.704,"v":0.597},{"t":3.715,"v":0.584},{"t":3.725,"v":0.476},{"t":3.735,"v":0.559},{"t":3.748,"v":0.581},{"t":3.76,"v":0.482},{"t":3.77,"v":0.578},{"t":3.781,"v":0.622},{"t":3.791,"v":0.616},{"t":3.801,"v":0.527},{"t":3.811,"v":0.603},{"t":3.823,"v":0.606},{"t":3.831,"v":0.59},{"t":3.843,"v":0.482},{"t":3.853,"v":0.393},{"t":3.861,"v":0.489},{"t":3.869,"v":0.59},{"t":3.879,"v":0.603},{"t":3.888,"v":0.559},{"t":3.898,"v":0.52},{"t":3.909,"v":0.552},
{"t":3.914,"v":0.552},{"t":3.923,"v":0.463},{"t":3.934,"v":0.431},{"t":3.944,"v":0.514},{"t":3.956,"v":0.552},{"t":3.969,"v":0.539},{"t":3.981,"v":0.495},{"t":3.994,"v":0.431},{"t":4.009,"v":0.396},{"t":4.017,"v":0.457},{"t":4.027,"v":0.527},{"t":4.034,"v":0.575},{"t":4.044,"v":0.527},{"t":4.055,"v":0.514},{"t":4.067,"v":0.53},{"t":4.08,"v":0.495},{"t":4.092,"v":0.52},{"t":4.104,"v":0.546},{"t":4.114,"v":0.476},{"t":4.122,"v":0.444},{"t":4.13,"v":0.39},{"t":4.14,"v":0.482},{"t":4.15,"v":0.498},{"t":4.163,"v":0.501},{"t":4.173,"v":0.539},{"t":4.183,"v":0.584},{"t":4.193,"v":0.533},{"t":4.205,"v":0.476},{"t":4.216,"v":0.457},{"t":4.226,"v":0.482},{"t":4.238,"v":0.495},{"t":4.25,"v":0.559},{"t":4.26,"v":0.581},{"t":4.27,"v":0.565},{"t":4.28,"v":0.495},{"t":4.293,"v":0.565},{"t":4.304,"v":0.584},{"t":4.313,"v":0.546},{"t":4.321,"v":0.469},{"t":4.329,"v":0.399},{"t":4.339,"v":0.482},{"t":4.349,"v":0.539},{"t":4.359,"v":0.559},{"t":4.371,"v":0.533},{"t":4.382,"v":0.508},{"t":4.396,"v":0.533},{"t":4.406,"v":0.482},{"t":4.416,"v":0.431},{"t":4.426,"v":0.374},{"t":4.436,"v":0.431},{"t":4.446,"v":0.571},{"t":4.455,"v":0.603},{"t":4.465,"v":0.584},{"t":4.475,"v":0.52},{"t":4.485,"v":0.514},{"t":4.495,"v":0.565},{"t":4.505,"v":0.482},{"t":4.515,"v":0.393},{"t":4.525,"v":0.406},{"t":4.537,"v":0.45},{"t":4.548,"v":0.431},{"t":4.558,"v":0.399},{"t":4.57,"v":0.476},{"t":4.582,"v":0.438},{"t":4.592,"v":0.431},{"t":4.603,"v":0.546},{"t":4.615,"v":0.562},{"t":4.625,"v":0.482},{"t":4.635,"v":0.355},{"t":4.64,"v":0.27},{"t":4.645,"v":0.361},{"t":4.653,"v":0.648},{"t":4.665,"v":0.686},{"t":4.675,"v":0.654},{"t":4.683,"v":0.489},{"t":4.691,"v":0.578},{"t":4.701,"v":0.68},{"t":4.711,"v":0.715},{"t":4.721,"v":0.699},{"t":4.728,"v":0.641},{"t":4.736,"v":0.565},{"t":4.748,"v":0.501},{"t":4.758,"v":0.469},{"t":4.768,"v":0.495},{"t":4.778,"v":0.552},{"t":4.788,"v":0.508},{"t":4.797,"v":0.457},{"t":4.807,"v":0.425},{"t":4.817,"v":0.444},{"t":4.827,"v":0.476},{"t":4.836,"v":0.463},{"t":4.844,"v":0.418},{"t":4.854,"v":0.412},{"t":4.864,"v":0.469},{"t":4.874,"v":0.53},{"t":4.885,"v":0.514},{"t":4.897,"v":0.482},{"t":4.907,"v":0.527},{"t":4.919,"v":0.514},{"t":4.93,"v":0.527},{"t":4.94,"v":0.508},{"t":4.952,"v":0.482},{"t":4.963,"v":0.463},{"t":4.973,"v":0.469},{"t":4.985,"v":0.495},{"t":4.996,"v":0.504}
]
},
"vconcat": [
{
 "title": "Random Data before filtering",
 "width": 1004, "height": 315,
 "data": {"name": "raw"},
 "layer": [
  {"mark": {"type": "line", "color": "#0072BD", "strokeWidth": 2.2, "clip": true},
   "encoding": {
    "x": {"field": "t", "type": "quantitative", "scale": {"domain": [0, 5], "nice": false, "zero": false},
      "axis": {"orient": "bottom", "values": [0,0.5,1,1.5,2,2.5,3,3.5,4,4.5,5], "format": ".1~f", "labelPadding": 21, "title": "time (s)", "titleY": 73, "titleBaseline": "middle"}},
    "y": {"field": "v", "type": "quantitative", "scale": {"domain": [0, 1], "nice": false, "zero": false},
      "axis": {"orient": "left", "values": [0,0.5,1], "format": ".1~f", "labelPadding": 20, "title": "Amplitude", "titleX": -79, "titleY": 157.5, "titleAngle": 270, "titleAlign": "center", "titleBaseline": "middle"}}
   }},
  {"mark": {"type": "line", "strokeOpacity": 0},
   "encoding": {
    "x": {"field": "t", "type": "quantitative", "axis": {"orient": "top", "values": [0,0.5,1,1.5,2,2.5,3,3.5,4,4.5,5], "labels": false, "title": null}},
    "y": {"field": "v", "type": "quantitative", "axis": {"orient": "right", "values": [0,0.5,1], "labels": false, "title": null}}
   }}
 ],
 "resolve": {"axis": {"x": "independent", "y": "independent"}}
},
{
 "title": "Random Data after low pass 25Hz cutoff filter",
 "width": 1004, "height": 314,
 "data": {"name": "filt"},
 "layer": [
  {"mark": {"type": "line", "color": "#0072BD", "strokeWidth": 2.2, "clip": true},
   "encoding": {
    "x": {"field": "t", "type": "quantitative", "scale": {"domain": [0, 5], "nice": false, "zero": false},
      "axis": {"orient": "bottom", "values": [0,0.5,1,1.5,2,2.5,3,3.5,4,4.5,5], "format": ".1~f", "labelPadding": 21, "title": "time (s)", "titleY": 72, "titleBaseline": "middle"}},
    "y": {"field": "v", "type": "quantitative", "scale": {"domain": [0.2, 0.8], "nice": false, "zero": false},
      "axis": {"orient": "left", "values": [0.2,0.4,0.6,0.8], "format": ".1~f", "labelPadding": 20, "title": "Amplitude", "titleX": -79, "titleY": 157, "titleAngle": 270, "titleAlign": "center", "titleBaseline": "middle"}}
   }},
  {"mark": {"type": "line", "strokeOpacity": 0},
   "encoding": {
    "x": {"field": "t", "type": "quantitative", "axis": {"orient": "top", "values": [0,0.5,1,1.5,2,2.5,3,3.5,4,4.5,5], "labels": false, "title": null}},
    "y": {"field": "v", "type": "quantitative", "axis": {"orient": "right", "values": [0.2,0.4,0.6,0.8], "labels": false, "title": null}}
   }}
 ],
 "resolve": {"axis": {"x": "independent", "y": "independent"}}
}
]
}
